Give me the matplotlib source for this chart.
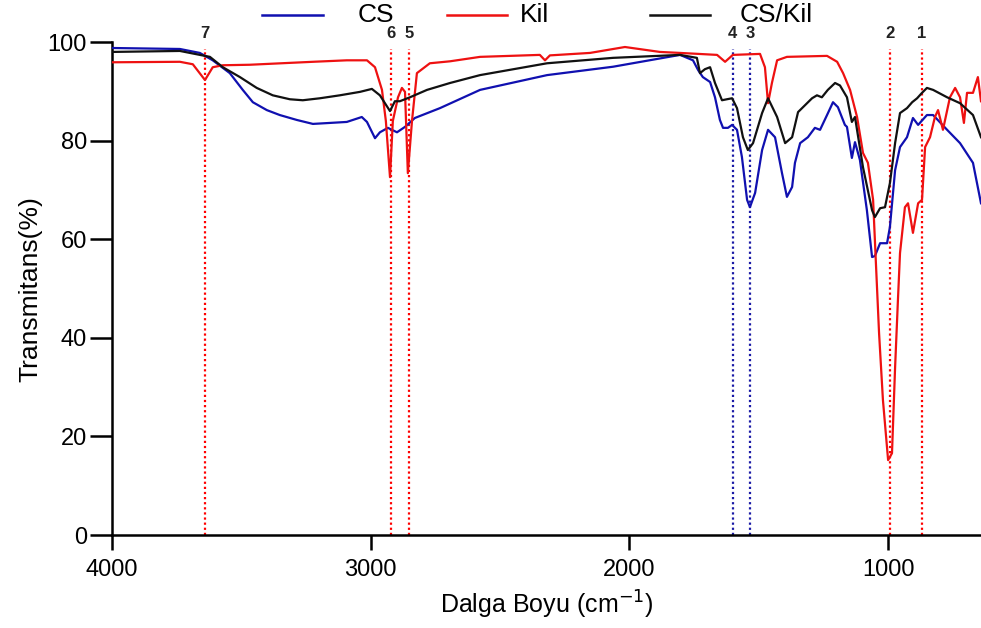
import matplotlib
matplotlib.use("Agg")
import matplotlib.pyplot as plt
from matplotlib.lines import Line2D

plt.rcParams['font.family'] = ['Liberation Sans', 'DejaVu Sans']

# --- data (wavenumber cm^-1, transmittance %) ---
cs_wn = [4000, 3737, 3660, 3610, 3544, 3494, 3455, 3401, 3351, 3285, 3223, 3157, 3092,
         3034, 3014, 2983, 2964, 2933, 2898, 2867, 2829, 2732, 2577, 2318, 2063, 1804,
         1754, 1734, 1716, 1688, 1669, 1650, 1638, 1619, 1603, 1584, 1565, 1545, 1534,
         1514, 1487, 1464, 1437, 1410, 1391, 1371, 1360, 1340, 1310, 1283, 1263, 1236,
         1213, 1194, 1167, 1159, 1140, 1128, 1109, 1082, 1062, 1051, 1031, 1004, 993,
         973, 954, 927, 904, 884, 850, 826, 772, 722, 672, 641]
cs_t = [98.8, 98.6, 97.8, 96.3, 93.7, 90.3, 87.8, 86.2, 85.2, 84.2, 83.4, 83.6, 83.8,
        84.8, 83.8, 80.5, 81.7, 82.6, 81.7, 82.8, 84.6, 86.6, 90.3, 93.3, 95.0, 97.4,
        96.3, 94.3, 92.9, 91.9, 88.8, 84.2, 82.6, 82.6, 83.2, 82.2, 76.7, 68.0, 66.5,
        69.4, 78.1, 82.2, 80.7, 73.4, 68.6, 70.6, 75.5, 79.5, 80.7, 82.6, 82.2, 85.2,
        87.8, 86.8, 83.2, 82.8, 76.5, 79.7, 76.1, 65.9, 56.4, 56.6, 59.2, 59.2, 62.5,
        74.0, 78.7, 80.7, 84.6, 83.2, 85.2, 85.2, 82.2, 79.5, 75.5, 67.3]

kil_wn = [4000, 3737, 3687, 3640, 3610, 3571, 3467, 3223, 3092, 3014, 2983, 2956, 2941,
          2925, 2914, 2894, 2879, 2867, 2856, 2840, 2821, 2771, 2693, 2577, 2346, 2326,
          2307, 2152, 2017, 1882, 1804, 1661, 1630, 1600, 1495, 1476, 1464, 1449, 1429,
          1391, 1236, 1197, 1174, 1147, 1120, 1097, 1078, 1058, 1047, 1035, 1020, 1000,
          985, 973, 962, 954, 935, 923, 904, 884, 869, 857, 838, 819, 807, 788, 761, 741,
          722, 707, 695, 672, 653, 641]
kil_t = [95.9, 96.0, 95.5, 92.3, 94.9, 95.3, 95.4, 96.0, 96.3, 96.3, 94.9, 90.3, 84.0,
         72.6, 84.0, 88.8, 90.7, 89.9, 73.4, 84.0, 93.7, 95.7, 96.1, 97.0, 97.4, 96.3,
         97.3, 97.8, 99.0, 98.0, 97.8, 97.4, 96.0, 97.4, 97.6, 94.9, 87.6, 91.7, 96.3,
         97.0, 97.2, 96.0, 93.7, 90.3, 84.8, 77.5, 75.5, 68.0, 55.0, 41.0, 27.4, 15.2,
         16.6, 34.0, 47.7, 57.2, 66.5, 67.3, 61.3, 67.3, 68.0, 78.7, 80.7, 84.8, 86.2,
         82.2, 88.8, 90.7, 88.8, 83.6, 89.7, 89.7, 92.9, 88.0]

cskil_wn = [4000, 3737, 3621, 3571, 3505, 3440, 3378, 3312, 3262, 3196, 3119, 3041, 2995,
            2964, 2925, 2906, 2887, 2848, 2782, 2693, 2577, 2318, 2063, 1804, 1739, 1727,
            1708, 1688, 1669, 1642, 1623, 1603, 1584, 1561, 1542, 1522, 1487, 1464, 1429,
            1398, 1371, 1348, 1321, 1294, 1275, 1256, 1233, 1205, 1186, 1159, 1140, 1128,
            1097, 1062, 1051, 1031, 1012, 993, 973, 954, 927, 907, 888, 869, 850, 826,
            772, 722, 672, 641]
cskil_t = [98.0, 98.2, 97.0, 94.9, 92.9, 90.7, 89.2, 88.4, 88.2, 88.6, 89.2, 89.9, 90.5,
           89.2, 86.0, 88.0, 88.0, 88.8, 90.3, 91.7, 93.3, 95.7, 96.8, 97.4, 96.8, 93.7,
           94.5, 94.9, 91.7, 88.2, 88.4, 88.6, 86.6, 80.7, 78.1, 79.5, 85.6, 88.6, 84.8,
           79.5, 80.7, 85.8, 87.2, 88.6, 89.2, 88.8, 90.3, 91.7, 91.2, 88.8, 83.8, 84.8,
           74.6, 65.9, 64.5, 66.3, 66.5, 71.4, 79.5, 85.6, 86.6, 87.8, 88.6, 89.7, 90.7,
           90.3, 88.8, 87.6, 85.2, 80.7]

peak_labels = ['1', '2', '3', '4', '5', '6', '7']
peak_wn = [869, 993, 1534, 1600, 2852, 2921, 3640]
peak_colors = ['red', 'red', '#1a1aa6', '#1a1aa6', 'red', 'red', 'red']

series_names = ['CS', 'Kil', 'CS/Kil']
series_colors = ['#1010b0', '#ee1111', '#111111']

x_ticks = [4000, 3000, 2000, 1000]
y_ticks = [0, 20, 40, 60, 80, 100]

fig = plt.figure(figsize=(9.81, 6.28), dpi=100)
ax = fig.add_axes([0.114, 0.148, 0.886, 0.785])

for wn, t, c in [(cs_wn, cs_t, series_colors[0]), (kil_wn, kil_t, series_colors[1]),
                 (cskil_wn, cskil_t, series_colors[2])]:
    ax.plot(wn, t, color=c, lw=1.6, zorder=3, solid_joinstyle='round')

for lab, w, c in zip(peak_labels, peak_wn, peak_colors):
    ax.plot([w, w], [0, 98.5], color=c, lw=1.6, ls=(0, (1, 1.3)), zorder=2)
    ax.text(w, 100.2, lab, ha='center', va='bottom', fontsize=12, fontweight='bold',
            color='#222222', clip_on=False)

ax.set_xlim(4000, 641)
ax.set_ylim(0, 100)
ax.set_xticks(x_ticks)
ax.set_yticks(y_ticks)
ax.tick_params(axis='both', labelsize=17, width=1.8, direction='out')
ax.tick_params(axis='y', length=16, pad=2)
ax.tick_params(axis='x', length=11, pad=6)
for s in ['top', 'right']:
    ax.spines[s].set_visible(False)
for s in ['left', 'bottom']:
    ax.spines[s].set_linewidth(1.8)
ax.set_ylabel('Transmitans(%)', fontsize=19, labelpad=4)
ax.set_xlabel('Dalga Boyu (cm$^{-1}$)', fontsize=18, labelpad=6)

# legend at top
leg_y = 1 - 15 / 628
leg_items = [(262, 323, 358), (447, 507, 520), (650, 710, 740)]
for (x0, x1, xt), name, c in zip(leg_items, series_names, series_colors):
    fig.add_artist(Line2D([x0 / 981, x1 / 981], [leg_y, leg_y], color=c, lw=1.8,
                          transform=fig.transFigure))
    fig.text(xt / 981, leg_y, name, fontsize=19, va='center', ha='left')

fig.savefig('out.png', dpi=100)
